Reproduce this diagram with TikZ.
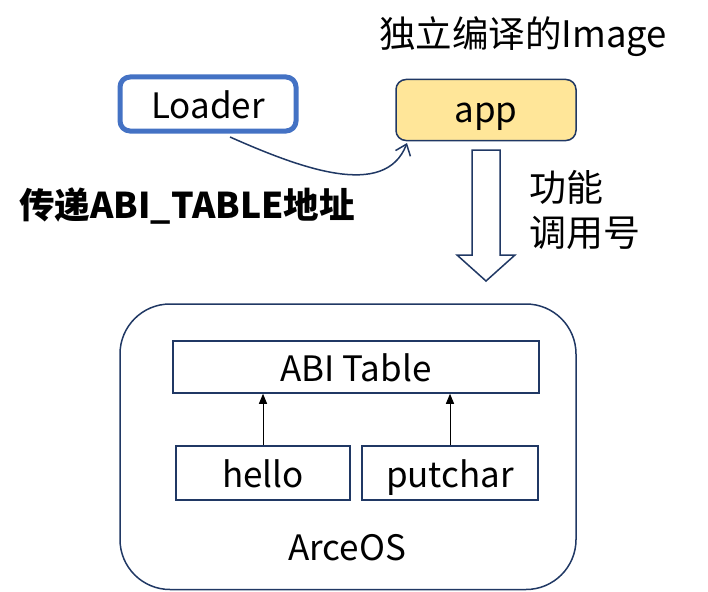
\documentclass[tikz,border=0pt]{standalone}
\usepackage{fontspec}
\setmainfont{Noto Sans CJK SC}
\usetikzlibrary{arrows.meta,positioning}
\definecolor{navy}{RGB}{32,56,100}
\definecolor{loaderblue}{RGB}{68,114,196}
\definecolor{appyellow}{RGB}{255,230,153}
\tikzset{
    module/.style={draw=navy,line width=1.5pt,minimum height=54pt,inner sep=0pt,text height=28pt,text depth=0pt},
    loaderbox/.style={draw=loaderblue,line width=5pt,rounded corners=10pt,minimum width=176pt,minimum height=54pt,text height=29pt,text depth=0pt},
    appbox/.style={draw=navy,fill=appyellow,line width=1.5pt,rounded corners=10pt,minimum width=180pt,minimum height=61pt,text height=24pt,text depth=0pt},
    pass/.style={-{Straight Barb[length=10pt,width=16pt]},draw=navy,line width=1.5pt},
    call/.style={-{Triangle[length=10pt,width=8pt]},line width=1pt}
}

\begin{document}
\begin{tikzpicture}[x=1pt,y=-1pt,font=\fontsize{35}{40}\selectfont]
    \useasboundingbox (0,0) rectangle (708,591);

    \node[font=\fontsize{36.5}{40}\selectfont] (title) at (523,37) {独立编译的Image};
    \node[loaderbox] (loader) at (208,104) {Loader};
    \node[appbox]    (app)    at (486,110) {app};

    \draw[pass] (230,137) .. controls (300,168) and (385,200) .. (407,143);
    \node[font=\fontsize{35.5}{40}\selectfont\bfseries] (addr) at (187,206) {传递ABI\_TABLE地址};

    % block arrow: function call number
    \coordinate (callstart) at (486,150);
    \draw[navy,line width=1.5pt] (472,150) -- (500,150) -- (500,255) -- (515,255)
        -- (486,281) -- (457,255) -- (472,255) -- cycle;
    \node[align=left,anchor=west,font=\fontsize{37}{45}\selectfont] (callno) at (526,210) {功能\\调用号};

    % ArceOS
    \draw[navy,line width=1.5pt,rounded corners=50pt] (120,304) rectangle (576,589.5);
    \node[module,minimum width=366pt,minimum height=52pt] (abi) at (356,367) {ABI Table};
    \node[module,minimum width=174pt] (hello)   at (263,473) {hello};
    \node[module,minimum width=176pt] (putchar) at (450,473) {putchar};
    \draw[call] (hello)   -- (hello |- abi.south);
    \draw[call] (putchar) -- (putchar |- abi.south);
    \node (os) at (347,548) {ArceOS};

\end{tikzpicture}
\end{document}
